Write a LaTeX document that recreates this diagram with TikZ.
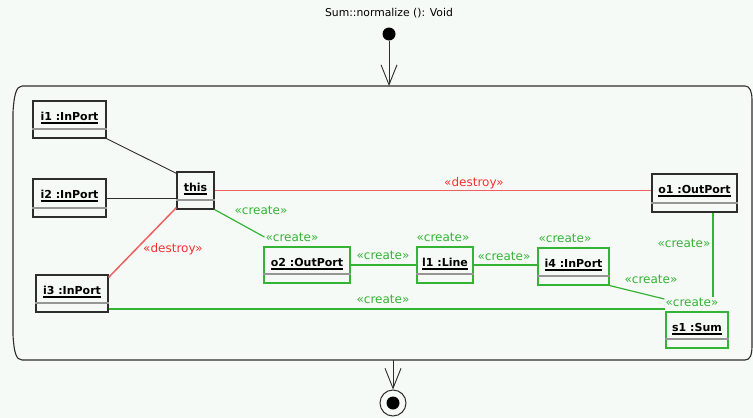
\documentclass[tikz,border=0pt]{standalone}
\usepackage{fontspec}
\setmainfont{DejaVu Sans}
\usetikzlibrary{arrows.meta}

\definecolor{paper}{RGB}{246,250,247}
\definecolor{ink}{RGB}{45,45,45}
\definecolor{newgreen}{RGB}{52,180,52}
\definecolor{killred}{RGB}{238,96,96}
\definecolor{killtext}{RGB}{250,48,48}
\definecolor{splitgray}{RGB}{150,150,150}

% bold object name with a heavy underline
\newcommand\objname[1]{\setbox0=\hbox{\bfseries #1}\vtop{\copy0\kern1.8pt\hrule height 1.3pt}}

% object box: style, name, centre x, centre y, width, height, label
\newcommand\umlobject[7]{%
  \node[#1, minimum width=#5pt, minimum height=#6pt] (#2) at (#3,#4) {};
  \draw[split] ([yshift=9.5pt]#2.south west) -- ([yshift=9.5pt]#2.south east);
  \node[oname] (#2-name) at ([yshift=-20pt]#2.north) {\objname{#7}};
}

\begin{document}
\begin{tikzpicture}[x=1pt,y=-1pt,
  obj/.style={draw=ink, line width=1.1pt, inner sep=0pt},
  newobj/.style={obj, draw=newgreen},
  oname/.style={anchor=base, inner sep=0pt, font=\fontsize{11}{13}\selectfont, text=black},
  split/.style={draw=splitgray, line width=1.4pt},
  tag/.style={font=\fontsize{12}{14}\selectfont, inner sep=1pt, text=newgreen},
  killtag/.style={tag, text=killtext},
  link/.style={draw=ink, line width=0.9pt},
  newlink/.style={draw=newgreen, line width=1.2pt},
  killlink/.style={draw=killred, line width=1.5pt},
  flow/.style={draw=ink, line width=0.9pt, -{Straight Barb[length=20pt,width=16pt]}},
  dot/.style={circle, fill=black, minimum size=13pt, inner sep=0pt}]

\fill[paper] (0,0) rectangle (753,418);
\useasboundingbox (0,0) rectangle (753,418);

% operation title
\node[font=\fontsize{10.8}{13}\selectfont] (title) at (389,13) {Sum::normalize (): Void};

% action state outline
\draw[ink, line width=1.1pt]
  (22,86) -- (745,86) .. controls (750,86) and (752,92) .. (752,100)
  -- (752,346) .. controls (752,355) and (750,360) .. (745,360)
  -- (22,360) .. controls (16,360) and (14,352) .. (13,335)
  -- (13,112) .. controls (14,96) and (16,86) .. (22,86) -- cycle;
\coordinate (acttop) at (389,86);
\coordinate (actbot) at (393,360);

% initial and final states
\node[dot] (start) at (389,34) {};
\draw[flow] (start) -- (acttop);
\node[circle, draw=ink, line width=1pt, minimum size=26pt, inner sep=0pt] (final) at (393,403) {};
\node[dot] (finaldot) at (final) {};
\draw[flow] (actbot) -- (final.north);

% objects
\umlobject{obj}{i1}{69.5}{119.5}{73}{37}{i1 :InPort}
\umlobject{obj}{i2}{69.5}{198}{73}{38}{i2 :InPort}
\umlobject{obj}{this}{195.5}{190.5}{37}{37}{this}
\umlobject{obj}{i3}{72}{293.5}{72}{37}{i3 :InPort}
\umlobject{obj}{o1}{694.5}{193}{85}{38}{o1 :OutPort}
\umlobject{newobj}{o2}{307}{265}{86}{36}{o2 :OutPort}
\umlobject{newobj}{l1}{445}{265}{56}{36}{l1 :Line}
\umlobject{newobj}{i4}{573.5}{266.5}{71}{37}{i4 :InPort}
\umlobject{newobj}{s1}{697}{330}{62}{36}{s1 :Sum}

% stereotype tags
\node[killtag] (d1) at (173,249) {«destroy»};
\node[killtag] (d2) at (474,183) {«destroy»};
\node[tag] (c-this) at (261,210) {«create»};
\node[tag] (c-o2) at (292,237) {«create»};
\node[tag] (c-l1) at (443,237) {«create»};
\node[tag] (c-i4) at (565,238) {«create»};
\node[tag] (c-o2l1) at (383,255) {«create»};
\node[tag] (c-l1i4) at (504,256) {«create»};
\node[tag] (c-o1s1) at (684,243) {«create»};
\node[tag] (c-i4s1) at (651,279) {«create»};
\node[tag] (c-s1) at (692,302) {«create»};
\node[tag] (c-i3s1) at (383,299) {«create»};

% links
\draw[link] (i1.south east) -- ([yshift=-2pt]this.north west);
\draw[link] (i2.east) -- (i2.east -| this.west);
\draw[killlink] ([yshift=-3pt]i3.north east) -- ([yshift=2pt]this.south west);
\draw[killlink] (this.east) -- (this.east -| o1.west);
\draw[newlink] (this.south east) -- (c-o2.west);
\draw[newlink] (o2.east) -- (l1.west);
\draw[newlink] (l1.east) -- (l1.east -| i4.west);
\draw[newlink] (i4.south east) -- ([yshift=3pt]c-s1.west);
\draw[newlink] ([xshift=18.5pt]o1.south) -- ([xshift=18.5pt]o1.south |- c-s1.north);
\draw[newlink] ([yshift=-15.5pt]i3.east) -- ([yshift=-15.5pt]i3.east -| s1.west);
\end{tikzpicture}
\end{document}
